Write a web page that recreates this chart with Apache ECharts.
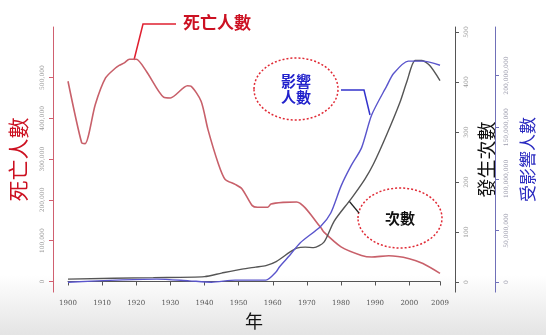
<!DOCTYPE html>
<html><head><meta charset="utf-8">
<script src="https://cdn.jsdelivr.net/npm/echarts@6/dist/echarts.min.js"></script>
<style>html,body{margin:0;padding:0;background:#fff}#c{width:546px;height:335px}</style>
</head><body><div id="c"></div>
<script>
// x-axis tick labels
const yearTicks = [1900,1910,1920,1930,1940,1950,1960,1970,1980,1990,2000,2009];
// deaths (死亡人數)
const deathYears  = [1900,1904,1905,1908,1911,1914,1915,1916.5,1918,1920,1923,1928,1930,1935,1936,1939,1941,1944,1946,1949,1951,1954,1955.5,1958.5,1959.5,1963,1967,1974,1975,1980,1986,1989,1994,2000,2004,2009];
const deathValues = [491000,340000,338000,434000,499000,524000,530000,536000,545000,545000,515000,452000,450000,480000,479000,442000,373000,290000,251000,238000,227000,186000,182000,182000,190000,194000,195000,133000,121000,85000,64000,60000,63000,56000,44000,20000];
// event count (發生次數)
const eventYears  = [1900,1925,1940,1945,1951,1955,1958,1961,1965,1967,1969.5,1972,1975,1978,1983,1987,1989.5,1993.4,1997.3,1999.3,2001.7,2003.7,2006,2009];
const eventValues = [6,9,11,18,26,30,33,41,60,68,70,69,80,122,167,206,236,295,360,401,443,443,433,403];
// affected people (受影響人數)
const affectedYears  = [1900,1916,1926,1935.5,1942,1949,1958,1961,1962,1965,1968,1974,1977,1980,1983,1986,1989,1993.4,1995.4,1999.7,2004,2009];
const affectedValues = [0,2200000,3000000,1300000,0,2000000,2000000,10000000,15000000,26000000,38000000,54000000,67000000,93000000,113000000,130000000,162000000,190000000,202000000,214000000,214000000,210000000];
// axis tick values
const deathTicks = [0,100000,200000,300000,400000,500000];
const eventTicks = [0,100,200,300,400,500];
const affectedTicks = [0,50000000,100000000,150000000,200000000];

const zip = (a,b) => a.map((x,i)=>[x,b[i]]);
const fmt = v => v.toLocaleString('en-US');
const CJK = '"Noto Sans CJK TC","Noto Sans CJK SC",sans-serif';

const chart = echarts.init(document.getElementById('c'));
const yBase = (color, lineColor) => ({
  type:'value', splitLine:{show:false},
  axisLine:{show:true, lineStyle:{color:lineColor, width:1}},
  axisTick:{show:true, length:4, lineStyle:{color:lineColor}},
  axisLabel:{rotate:90, fontSize:6, color:'#888', fontFamily:'DejaVu Serif', formatter:fmt},
  nameLocation:'middle', nameRotate:90,
  nameTextStyle:{color:color, fontFamily:CJK}
});
chart.setOption({
  backgroundColor:{type:'linear',x:0,y:0,x2:0,y2:1,colorStops:[{offset:0,color:'#ffffff'},{offset:0.82,color:'#ffffff'},{offset:1,color:'#e4e4e4'}]},
  animation:false,
  grid:{left:67, right:106, top:27, bottom:41},
  xAxis:{type:'value', min:1900, max:2009, splitLine:{show:false},
    axisLine:{lineStyle:{color:'#555'}},
    axisTick:{length:4, lineStyle:{color:'#555'}, customValues:yearTicks},
    axisLabel:{fontSize:7, color:'#555', margin:8, fontFamily:'DejaVu Serif', customValues:yearTicks, formatter:v=>String(v)},
    name:'年', nameLocation:'middle', nameGap:19, nameTextStyle:{fontSize:18, color:'#111', fontFamily:CJK}
  },
  yAxis:[
    Object.assign(yBase('#cc1020','#d06070'), {position:'left', offset:15, min:-26000, max:624000,
      axisTick:{show:true,length:4,lineStyle:{color:'#d06070'},customValues:deathTicks},
      axisLabel:{rotate:90,fontSize:6,color:'#999',fontFamily:'DejaVu Serif',formatter:fmt,margin:8,customValues:deathTicks},
      name:'死亡人數', nameGap:24, nameTextStyle:{color:'#cc1020',fontSize:21,fontFamily:CJK}}),
    Object.assign(yBase('#111','#555'), {position:'right', offset:15, min:-20, max:510,
      axisTick:{show:true,length:4,lineStyle:{color:'#555'},customValues:eventTicks},
      axisLabel:{rotate:90,fontSize:6,color:'#999',fontFamily:'DejaVu Serif',formatter:fmt,margin:8,customValues:eventTicks},
      name:'發生次數', nameGap:14, nameTextStyle:{color:'#111',fontSize:19,fontFamily:CJK}}),
    Object.assign(yBase('#2a2ac0','#7070b8'), {position:'right', offset:55, min:-9600000, max:247000000,
      axisTick:{show:true,length:4,lineStyle:{color:'#7070b8'},customValues:affectedTicks},
      axisLabel:{rotate:90,fontSize:6,color:'#99a',fontFamily:'DejaVu Serif',formatter:fmt,margin:8,customValues:affectedTicks},
      name:'受影響人數', nameGap:24, nameTextStyle:{color:'#2a2ac0',fontSize:17,fontFamily:CJK}})
  ],
  series:[
    {type:'line', yAxisIndex:0, data:zip(deathYears,deathValues), showSymbol:false, smooth:0.25, lineStyle:{color:'#c8606a', width:1.6}},
    {type:'line', yAxisIndex:1, data:zip(eventYears,eventValues), showSymbol:false, smooth:0.25, lineStyle:{color:'#555', width:1.4}},
    {type:'line', yAxisIndex:2, data:zip(affectedYears,affectedValues), showSymbol:false, smooth:0.25, lineStyle:{color:'#5a55cc', width:1.4}}
  ],
  graphic:[
    {type:'polyline', shape:{points:[[134,60],[143,24],[176,24]]}, style:{stroke:'#e02030', lineWidth:1.5, fill:null}},
    {type:'text', x:183, y:23, style:{text:'死亡人數', fontSize:17, fontWeight:'bold', fill:'#cc1122', fontFamily:CJK, verticalAlign:'middle'}},
    {type:'ellipse', shape:{cx:296, cy:89, rx:42, ry:31}, style:{fill:'none', stroke:'#e02a35', lineWidth:1.5, lineDash:[2,2]}},
    {type:'text', x:296, y:89, style:{text:'影響\n人數', fontSize:15, lineHeight:16, fontWeight:'bold', fill:'#2222cc', fontFamily:CJK, align:'center', verticalAlign:'middle'}},
    {type:'polyline', shape:{points:[[341,90],[364,90],[370,115]]}, style:{stroke:'#3333cc', lineWidth:1.5, fill:null}},
    {type:'ellipse', shape:{cx:400, cy:218, rx:42, ry:30}, style:{fill:'none', stroke:'#e02a35', lineWidth:1.5, lineDash:[2,2]}},
    {type:'text', x:400, y:218, style:{text:'次數', fontSize:15, fontWeight:'bold', fill:'#111', fontFamily:CJK, align:'center', verticalAlign:'middle'}},
    {type:'line', shape:{x1:349, y1:201, x2:359, y2:213}, style:{stroke:'#222', lineWidth:1.2}}
  ]
});
</script></body></html>
